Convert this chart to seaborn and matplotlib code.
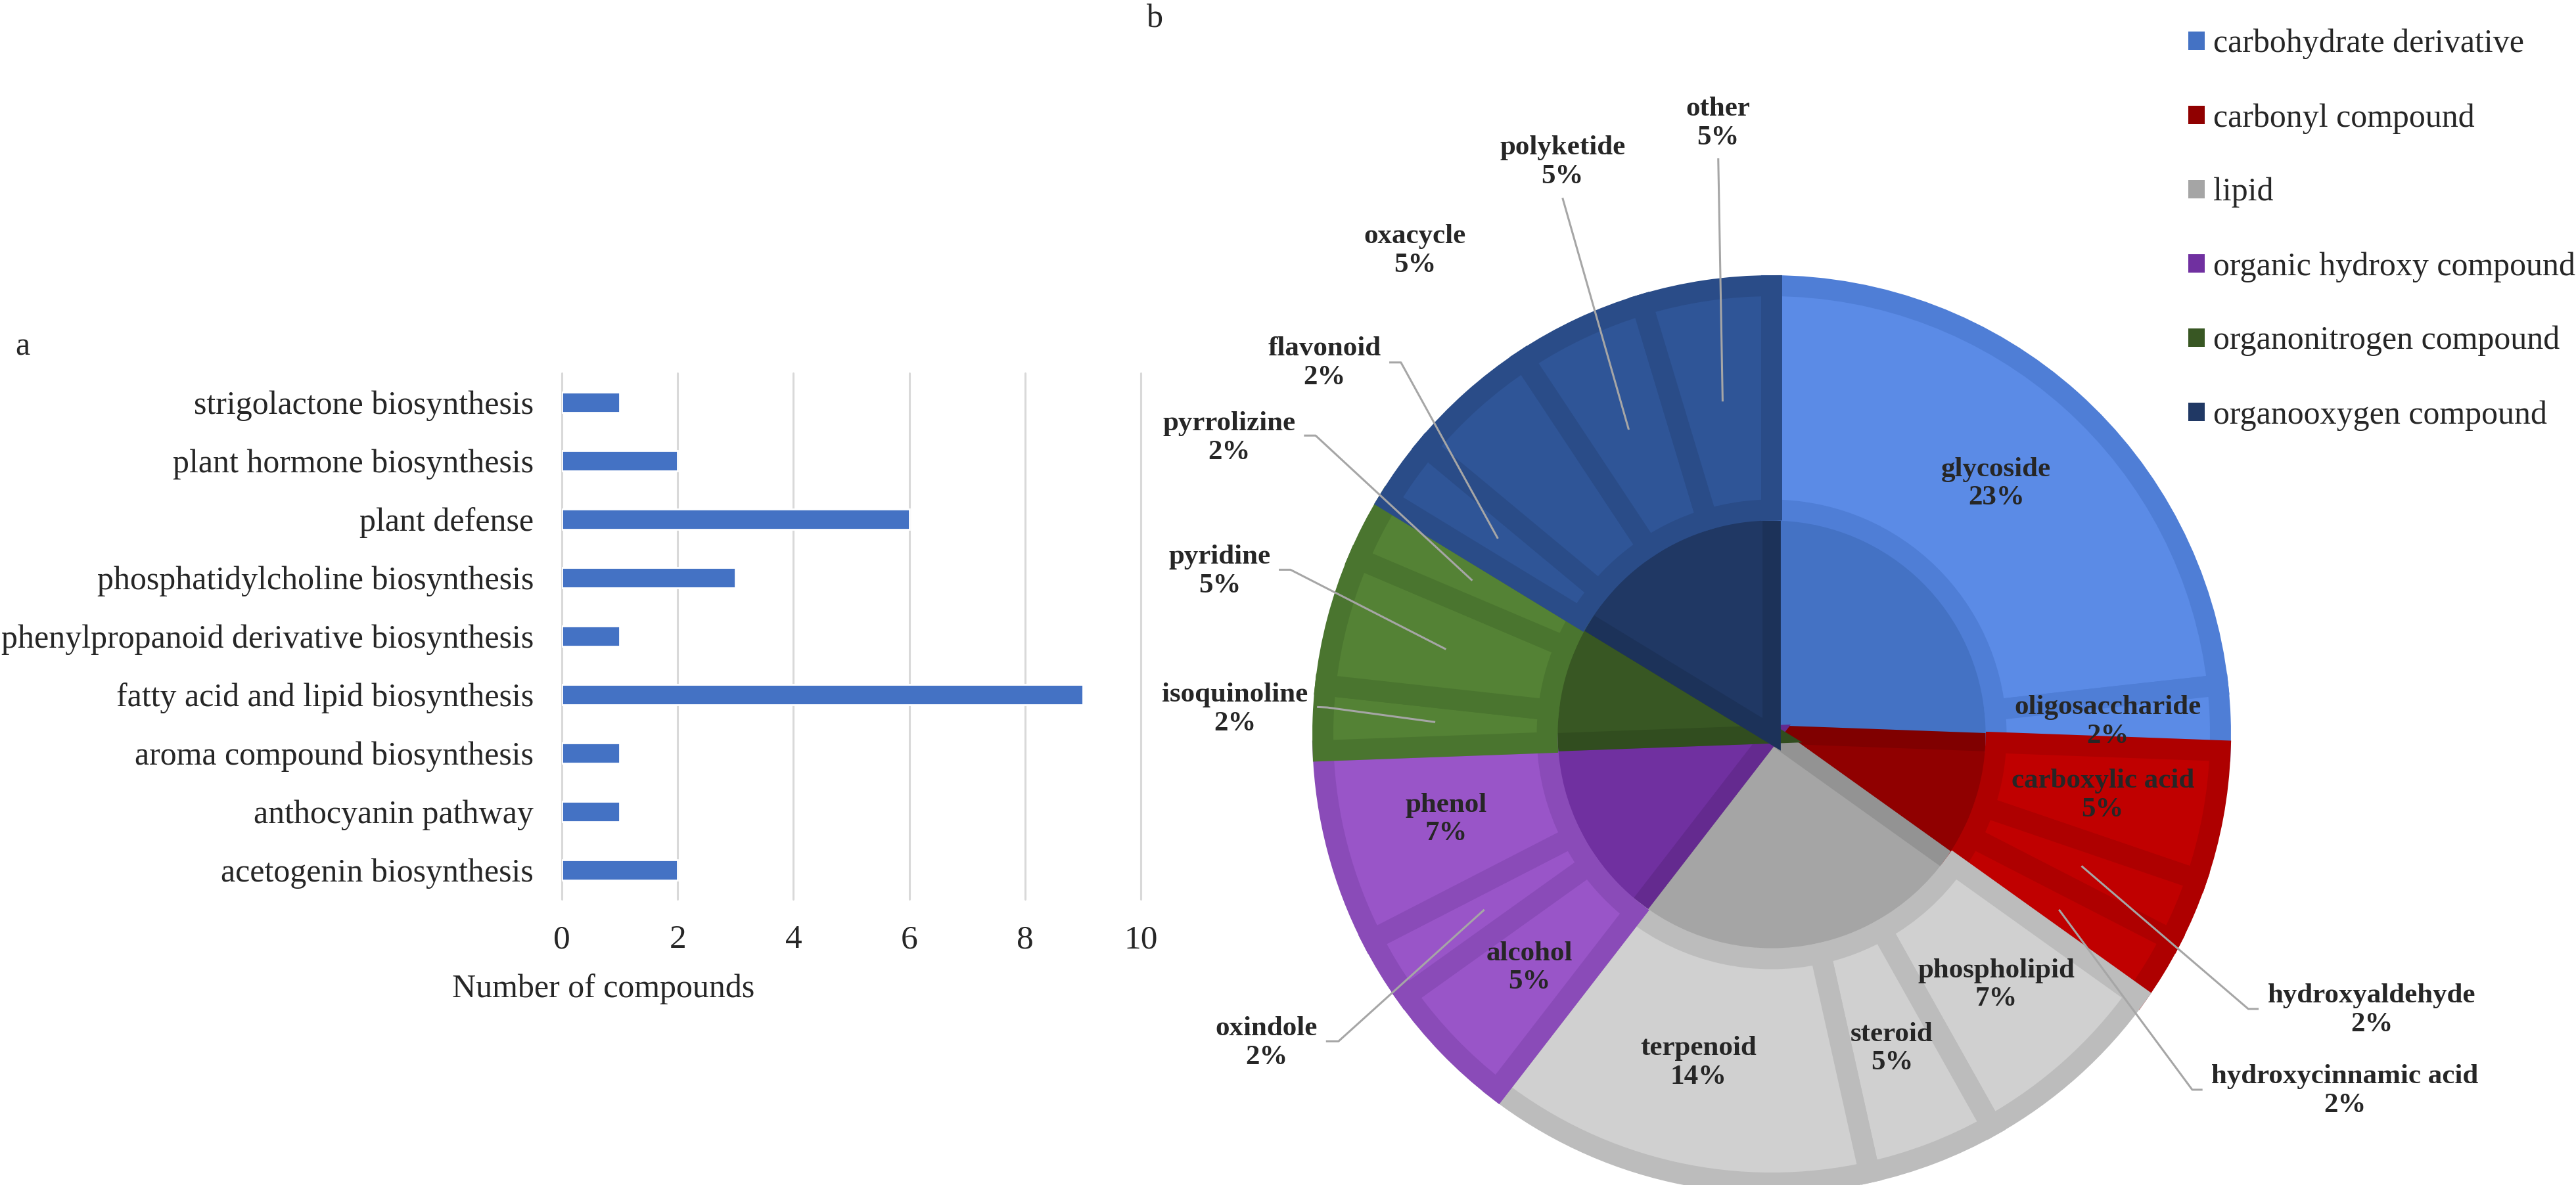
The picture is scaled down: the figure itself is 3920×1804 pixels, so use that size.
import matplotlib
matplotlib.use("Agg")
import numpy as np
import pandas as pd
import matplotlib.pyplot as plt
import seaborn as sns
from matplotlib.patches import Patch

# ---------------- panel a: pathways
pathways = ["strigolactone biosynthesis", "plant hormone biosynthesis", "plant defense",
            "phosphatidylcholine biosynthesis", "phenylpropanoid derivative biosynthesis",
            "fatty acid and lipid biosynthesis", "aroma compound biosynthesis",
            "anthocyanin pathway", "acetogenin biosynthesis"]
pathway_counts = [1, 2, 6, 3, 1, 9, 1, 1, 2]

# ---------------- panel b: compound classes (inner) and subclasses (outer)
classes = ["carbohydrate derivative", "carbonyl compound", "lipid",
           "organic hydroxy compound", "organonitrogen compound", "organooxygen compound"]
subclasses = ["glycoside", "oligosaccharide",
              "carboxylic acid", "hydroxyaldehyde", "hydroxycinnamic acid",
              "phospholipid", "steroid", "terpenoid",
              "alcohol", "oxindole", "phenol",
              "isoquinoline", "pyridine", "pyrrolizine",
              "flavonoid", "oxacycle", "polyketide", "other"]
subclass_parent = [0, 0, 1, 1, 1, 2, 2, 2, 3, 3, 3, 4, 4, 4, 5, 5, 5, 5]
subclass_counts = [10, 1, 2, 1, 1, 3, 2, 6, 2, 1, 3, 1, 2, 1, 1, 2, 2, 2]

# colours (Excel-like fills with a darker bevel band)
inner_fill = ["#4472C4", "#900000", "#A5A5A5", "#7030A0", "#385723", "#203864"]
inner_band = ["#3D66B0", "#800000", "#939393", "#642A8F", "#314D1F", "#1C3259"]
outer_fill = ["#5B8BE6", "#C00000", "#D0D0D0", "#9955C8", "#548235", "#2F5597"]
outer_band = ["#4F7ED6", "#AE0000", "#BCBCBC", "#8A4BB8", "#4A752F", "#2A4C88"]
bar_color = "#4472C4"

# label layout for the outer labels placed outside the ring (pie units)
outside_labels = {
    "hydroxyaldehyde": ((1.337, -0.615), [(1.062, -0.612), (1.085, -0.612)]),
    "hydroxycinnamic acid": ((1.277, -0.795), [(0.937, -0.792), (0.960, -0.792)]),
    "oxindole": ((-1.126, -0.688), [(-0.965, -0.684), (-0.993, -0.684)]),
    "isoquinoline": ((-1.196, 0.056), [(-0.990, 0.060), (-1.013, 0.061)]),
    "pyridine": ((-1.230, 0.363), [(-1.072, 0.367), (-1.098, 0.367)]),
    "pyrrolizine": ((-1.209, 0.660), [(-1.016, 0.666), (-1.042, 0.666)]),
    "flavonoid": ((-0.996, 0.827), [(-0.826, 0.829), (-0.852, 0.829)]),
    "oxacycle": ((-0.795, 1.078), []),
    "polyketide": ((-0.466, 1.275), [(-0.466, 1.196)]),
    "other": ((-0.119, 1.362), [(-0.119, 1.284)]),
}

W, H, DPI = 3920, 1804, 200
PIE_CX, PIE_CY, PIE_R = 2696, 1118, 683

sns.set_theme(style="white")
plt.rcParams["font.family"] = ["Liberation Serif", "DejaVu Serif"]

fig = plt.figure(figsize=(W / DPI, H / DPI), dpi=DPI)

# ---------------- panel a
ax_bar = fig.add_axes([855 / W, 1 - 1369 / H, 881 / W, 801 / H])
sns.barplot(x=pathway_counts, y=pathways, orient="h", color=bar_color,
            saturation=1, width=0.35, ax=ax_bar)
ax_bar.set_xlim(0, 10)
ax_bar.set_ylim(8.5, -0.5)
ax_bar.set_xticks(range(0, 11, 2))
ax_bar.grid(axis="x", color="#D9D9D9", linewidth=1.1)
ax_bar.grid(axis="y", visible=False)
ax_bar.set_axisbelow(True)
for gl in ax_bar.get_xgridlines():
    gl.set_clip_on(False)
sns.despine(ax=ax_bar, left=True, bottom=True)
ax_bar.tick_params(axis="y", length=0, labelsize=18, pad=15.5)
ax_bar.tick_params(axis="x", length=0, labelsize=18.5, pad=14)
ax_bar.set_ylabel("")
ax_bar.set_xlabel("Number of compounds", fontsize=18)
ax_bar.xaxis.set_label_coords((918 - 855) / 881, -(1482 - 1369) / 801)

fig.text(23 / W, 1 - 541 / H, "a", fontsize=18, va="baseline")
fig.text(1745 / W, 1 - 41 / H, "b", fontsize=18, va="baseline")

# ---------------- panel b
df = pd.DataFrame({"sub": subclasses, "parent": subclass_parent, "n": subclass_counts})
class_counts = df.groupby("parent")["n"].sum().reindex(range(len(classes))).tolist()
total = df["n"].sum()

ax_pie = fig.add_axes([(PIE_CX - 1.45 * PIE_R) / W, 0, 2.9 * PIE_R / W, 1])
inner, _ = ax_pie.pie(class_counts, radius=0.5, startangle=90, counterclock=False,
                      colors=inner_fill)
outer, _ = ax_pie.pie(subclass_counts, radius=1.0, startangle=90, counterclock=False,
                      colors=[outer_fill[p] for p in subclass_parent],
                      wedgeprops=dict(width=0.5))
for w, c in zip(inner, inner_band):
    w.set_edgecolor(c)
    w.set_linewidth(10)
    w.set_clip_path(w)
for w, p in zip(outer, subclass_parent):
    w.set_edgecolor(outer_band[p])
    w.set_linewidth(11.5)
    w.set_clip_path(w)

lead_kw = dict(color="#A6A6A6", linewidth=1.1, solid_capstyle="butt")
for w, name, n in zip(outer, subclasses, subclass_counts):
    mid = np.deg2rad((w.theta1 + w.theta2) / 2)
    txt = f"{name}\n{round(100 * n / total)}%"
    anchor = (0.75 * np.cos(mid), 0.75 * np.sin(mid))
    if name in outside_labels:
        pos, pts = outside_labels[name]
        if pts:
            xs = [anchor[0]] + [p[0] for p in pts]
            ys = [anchor[1]] + [p[1] for p in pts]
            ax_pie.plot(xs, ys, **lead_kw)
    else:
        pos = anchor
    ax_pie.text(pos[0], pos[1], txt, ha="center", va="center", fontsize=15.5,
                fontweight="bold", linespacing=1.2)

ax_pie.set_aspect("auto")
ax_pie.set_xlim(-1.45, 1.45)
ax_pie.set_ylim(-(H - PIE_CY) / PIE_R, PIE_CY / PIE_R)
ax_pie.axis("off")

handles = [Patch(facecolor=c, edgecolor="none", label=n) for c, n in zip(inner_fill, classes)]
fig.legend(handles=handles, loc="upper left", bbox_to_anchor=(3330 / W, 1 - 44 / H),
           frameon=False, fontsize=18, handlelength=0.5, handleheight=0.5,
           handletextpad=0.26, labelspacing=1.33, borderaxespad=0, borderpad=0)

fig.savefig("out.png", dpi=DPI, facecolor="white")
